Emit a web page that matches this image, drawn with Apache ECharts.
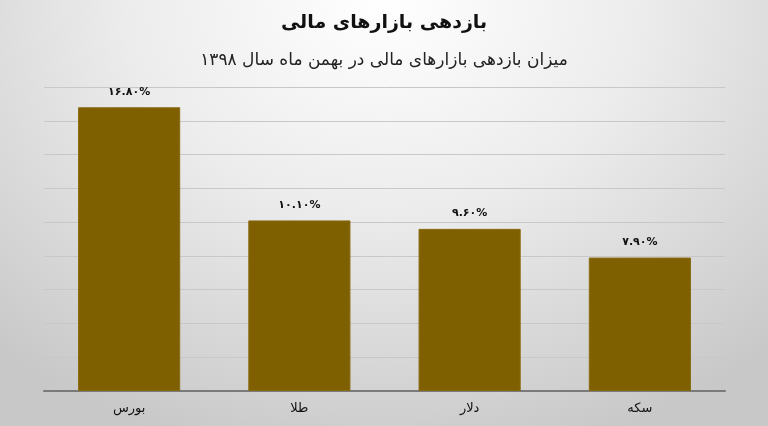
<!DOCTYPE html>
<html><head><meta charset="utf-8">
<script src="https://cdn.jsdelivr.net/npm/echarts@6/dist/echarts.min.js"></script>
<style>
html,body{margin:0;padding:0;}
#c{width:768px;height:426px;background:radial-gradient(ellipse 75% 110% at 50% 0%, #ffffff 0%, #ececec 45%, #d2d2d2 85%, #c8c8c8 100%);}
</style></head>
<body><div id="c"></div>
<script>
const titleText = 'بازدهی بازارهای مالی';
const subtitleText = 'میزان بازدهی بازارهای مالی در بهمن ماه سال ۱۳۹۸';
const categories = ['بورس', 'طلا', 'دلار', 'سکه'];
const values = [16.8, 10.1, 9.6, 7.9];
const yMin = 0, yMax = 18, yInterval = 2;

const fa = s => String(s).replace(/[0-9]/g, d => '۰۱۲۳۴۵۶۷۸۹'[d]);
const font = "'DejaVu Sans', sans-serif";
const chart = echarts.init(document.getElementById('c'), null, {renderer:'canvas'});
chart.setOption({
  backgroundColor: 'transparent',
  animation: false,
  title: [
    {text: titleText, left: 'center', top: 9, textStyle:{fontFamily:font, fontSize:19, fontWeight:'bold', color:'#111'}},
    {text: subtitleText, left: 'center', top: 47, textStyle:{fontFamily:font, fontSize:17, fontWeight:'normal', color:'#222'}}
  ],
  grid: {left: 44, right: 43, top: 87, bottom: 35, containLabel: false},
  xAxis: {
    type: 'category', data: categories,
    axisLine: {lineStyle:{color:'#7a7a7a', width:2}},
    axisTick: {show:false},
    axisLabel: {fontFamily:font, fontSize:13, color:'#111', margin:11}
  },
  yAxis: {
    type: 'value', min: yMin, max: yMax, interval: yInterval,
    axisLabel: {show:false}, axisLine:{show:false}, axisTick:{show:false},
    splitLine: {lineStyle:{color:'#c8c8c8', width:1}}
  },
  series: [{
    type: 'bar', data: values, barCategoryGap: '40%',
    itemStyle: {color:'#7f6000', borderColor:'#8a6a10', borderWidth:1},
    label: {show:true, position:'top', distance:10, fontFamily:font, fontSize:11, fontWeight:'bold', color:'#111',
      formatter: p => fa(p.value.toFixed(2)) + '%'}
  }]
});
</script></body></html>
